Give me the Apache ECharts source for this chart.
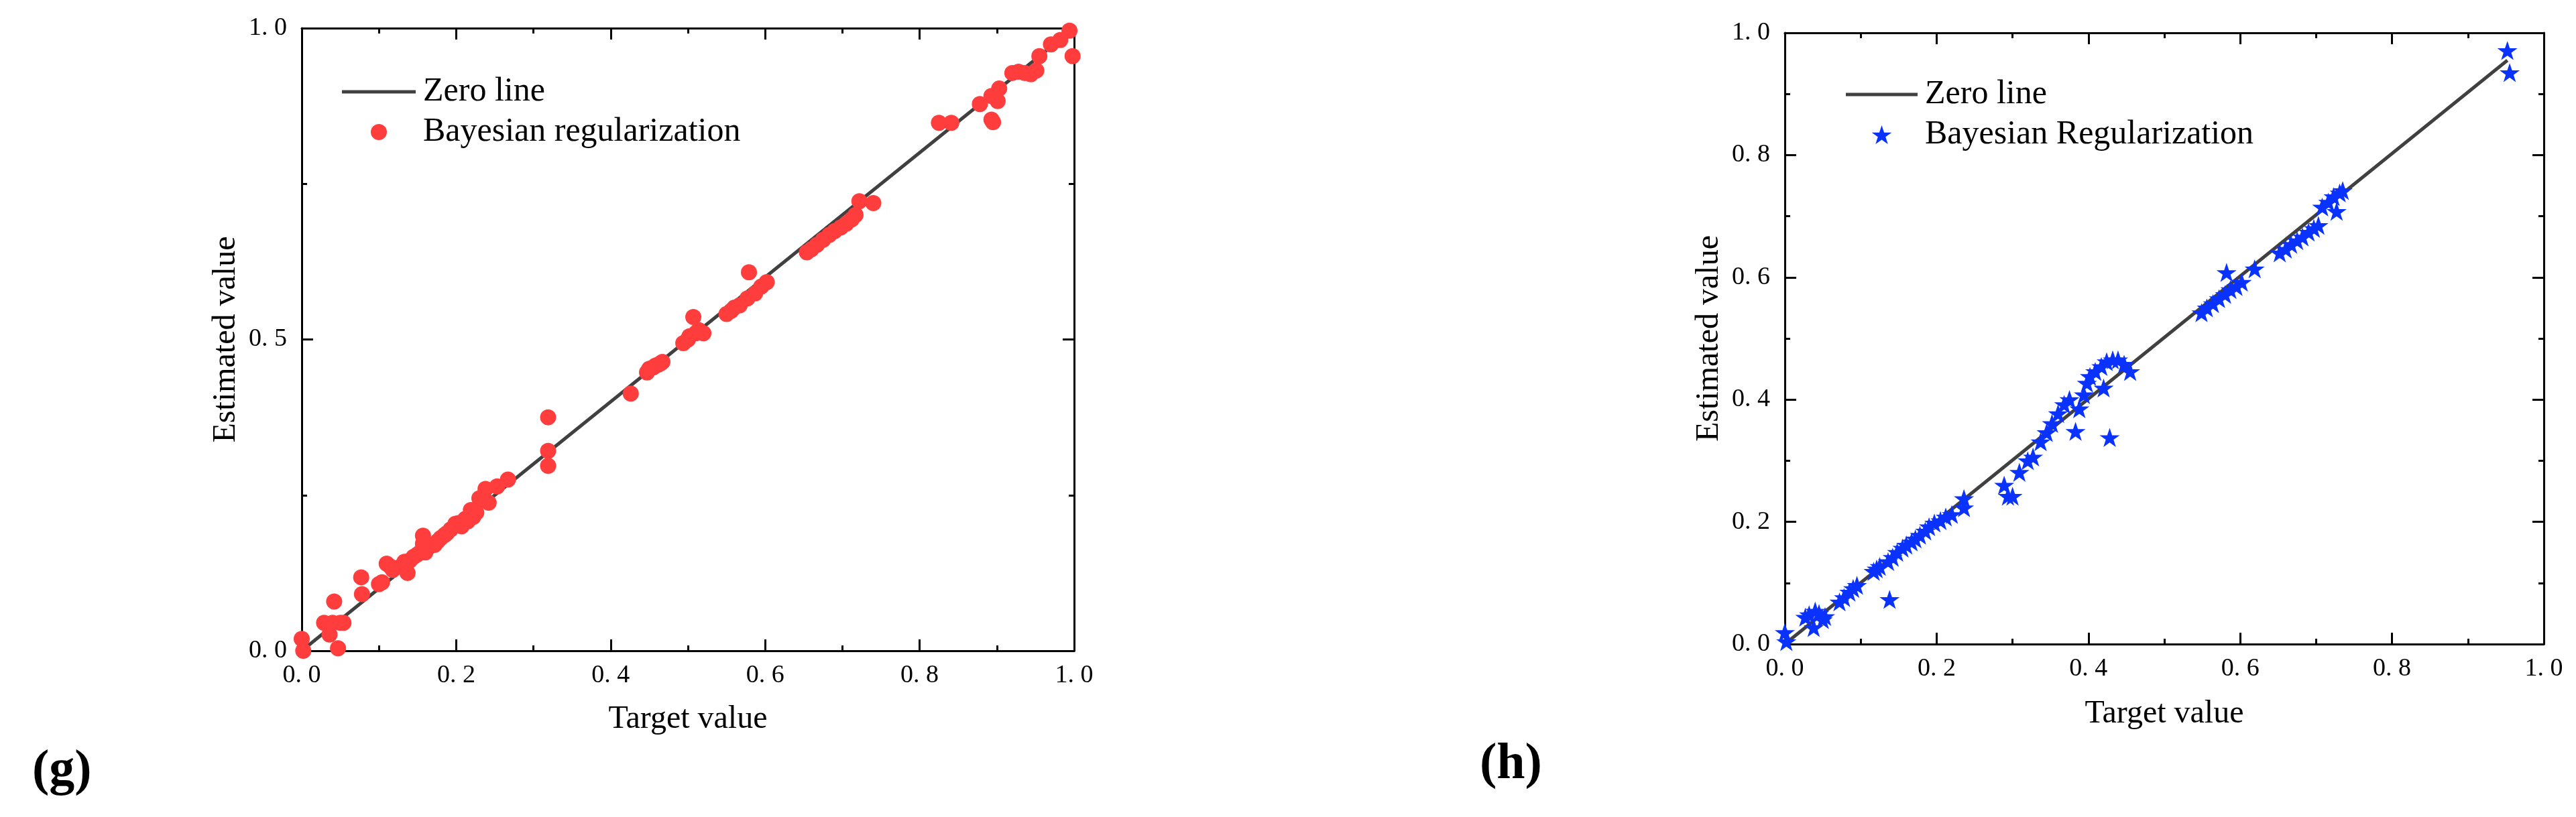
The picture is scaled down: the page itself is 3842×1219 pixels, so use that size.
<!DOCTYPE html>
<html>
<head>
<meta charset="utf-8">
<script src="https://cdn.jsdelivr.net/npm/echarts@6/dist/echarts.min.js"></script>
<style>
html,body{margin:0;padding:0;background:#fff;}
#chart{width:3842px;height:1219px;}
</style>
</head>
<body>
<div id="chart"></div>
<script>
// ---- Panel (g) data ----
const gTarget = [0.000,0.002,0.029,0.036,0.040,0.042,0.047,0.050,0.054,0.077,0.078,0.100,0.104,0.110,0.115,0.118,0.128,0.133,0.137,0.140,0.145,0.150,0.155,0.157,0.157,0.160,0.164,0.168,0.172,0.176,0.180,0.185,0.188,0.193,0.199,0.203,0.207,0.212,0.215,0.219,0.222,0.226,0.230,0.238,0.242,0.253,0.267,0.319,0.319,0.319,0.426,0.447,0.450,0.455,0.458,0.462,0.465,0.467,0.494,0.500,0.502,0.507,0.510,0.514,0.520,0.550,0.556,0.560,0.567,0.577,0.579,0.587,0.595,0.602,0.654,0.660,0.667,0.675,0.683,0.690,0.698,0.705,0.712,0.717,0.722,0.740,0.825,0.841,0.878,0.893,0.893,0.895,0.901,0.903,0.920,0.928,0.936,0.944,0.951,0.955,0.970,0.982,0.994,0.998];
const gEstimated = [0.019,0.000,0.045,0.026,0.045,0.079,0.004,0.045,0.045,0.118,0.091,0.107,0.110,0.140,0.135,0.130,0.135,0.143,0.125,0.145,0.151,0.155,0.160,0.185,0.172,0.158,0.166,0.170,0.170,0.176,0.181,0.186,0.189,0.195,0.204,0.205,0.200,0.212,0.208,0.226,0.215,0.222,0.245,0.260,0.238,0.264,0.275,0.375,0.321,0.297,0.413,0.447,0.453,0.455,0.458,0.460,0.462,0.464,0.494,0.500,0.505,0.536,0.510,0.515,0.510,0.541,0.546,0.551,0.555,0.566,0.608,0.574,0.585,0.592,0.640,0.645,0.652,0.660,0.668,0.674,0.680,0.686,0.693,0.700,0.722,0.719,0.848,0.848,0.878,0.891,0.853,0.849,0.883,0.903,0.928,0.930,0.928,0.926,0.932,0.955,0.974,0.981,0.996,0.955];
const gZeroLine = [[0, 0], [1, 1]];
const gXTicks = ['0. 0','0. 2','0. 4','0. 6','0. 8','1. 0'];
const gYTicks = ['0. 0','0. 5','1. 0'];

// ---- Panel (h) data ----
const hTarget = [0.000,0.002,0.027,0.032,0.038,0.040,0.045,0.050,0.053,0.072,0.078,0.085,0.090,0.095,0.117,0.121,0.125,0.138,0.136,0.142,0.148,0.155,0.160,0.167,0.172,0.178,0.185,0.190,0.197,0.205,0.212,0.220,0.236,0.236,0.289,0.294,0.300,0.309,0.320,0.327,0.337,0.345,0.352,0.360,0.368,0.375,0.383,0.388,0.394,0.398,0.402,0.409,0.417,0.424,0.432,0.439,0.447,0.455,0.420,0.428,0.549,0.556,0.564,0.572,0.580,0.582,0.587,0.595,0.602,0.619,0.652,0.660,0.667,0.675,0.682,0.690,0.697,0.703,0.708,0.716,0.723,0.731,0.735,0.727,0.952,0.955];
const hEstimated = [0.019,0.004,0.044,0.048,0.027,0.054,0.050,0.040,0.045,0.069,0.076,0.085,0.091,0.096,0.119,0.123,0.127,0.073,0.135,0.142,0.150,0.157,0.162,0.167,0.172,0.178,0.185,0.192,0.198,0.202,0.208,0.212,0.223,0.238,0.260,0.242,0.242,0.281,0.300,0.306,0.331,0.346,0.361,0.377,0.392,0.400,0.348,0.385,0.408,0.427,0.438,0.446,0.454,0.462,0.465,0.465,0.458,0.446,0.419,0.338,0.542,0.550,0.557,0.565,0.572,0.608,0.580,0.585,0.592,0.614,0.640,0.646,0.654,0.660,0.666,0.674,0.680,0.685,0.715,0.723,0.732,0.738,0.742,0.708,0.971,0.935];
const hZeroLine = [[0, 0], [0.952, 0.955]];
const hXTicks = ['0. 0','0. 2','0. 4','0. 6','0. 8','1. 0'];
const hYTicks = ['0. 0','0. 2','0. 4','0. 6','0. 8','1. 0'];

const FONT = '"Liberation Serif", "Times New Roman", serif';
const STAR = 'path://M50,0 L61.8,35.1 L98.8,35.1 L68.9,57 L80.2,92.1 L50,70.5 L19.8,92.1 L31.1,57 L1.2,35.1 L38.2,35.1 Z';
const LINE_ICON = 'path://M0,0 L110,0 L110,5 L0,5 Z';

function pairs(xs, ys) { return xs.map((x, i) => [x, ys[i]]); }

function mkAxis(o) {
  const base = {
    type: 'value', min: 0, max: 1,
    axisLine: { show: true, onZero: false, lineStyle: { color: '#000', width: 3 } },
    axisTick: { show: true, inside: true, length: 17, lineStyle: { color: '#000', width: 3 } },
    minorTick: { show: true, splitNumber: 2, length: 8, lineStyle: { color: '#000', width: 3 } },
    splitLine: { show: false },
    axisLabel: { show: false }
  };
  return Object.assign(base, o);
}
function lbl(ticks, step, margin) {
  return { show: true, color: '#000', fontSize: 38, fontFamily: FONT, margin: margin,
    formatter: v => ticks[Math.round(v / step)] };
}
const nameStyle = { color: '#000', fontSize: 48, fontFamily: FONT };
const legendText = { color: '#000', fontSize: 50, fontFamily: FONT, lineHeight: 52, padding: [0, 0, 0, 6] };

const option = {
  animation: false,
  backgroundColor: '#fff',
  textStyle: { fontFamily: FONT },
  grid: [
    { left: 450, top: 42, width: 1152, height: 929 },
    { left: 2662, top: 49, width: 1132, height: 912 }
  ],
  xAxis: [
    mkAxis({ gridIndex: 0, position: 'bottom', interval: 0.2, axisLabel: lbl(gXTicks, 0.2, 18),
      name: 'Target value', nameLocation: 'middle', nameGap: 78, nameTextStyle: nameStyle }),
    mkAxis({ gridIndex: 0, position: 'top', interval: 0.2 }),
    mkAxis({ gridIndex: 1, position: 'bottom', interval: 0.2, axisLabel: lbl(hXTicks, 0.2, 18),
      name: 'Target value', nameLocation: 'middle', nameGap: 80, nameTextStyle: nameStyle }),
    mkAxis({ gridIndex: 1, position: 'top', interval: 0.2 })
  ],
  yAxis: [
    mkAxis({ gridIndex: 0, position: 'left', interval: 0.5, axisLabel: lbl(gYTicks, 0.5, 22),
      name: 'Estimated value', nameLocation: 'middle', nameGap: 89, nameTextStyle: nameStyle }),
    mkAxis({ gridIndex: 0, position: 'right', interval: 0.5 }),
    mkAxis({ gridIndex: 1, position: 'left', interval: 0.2, axisLabel: lbl(hYTicks, 0.2, 22),
      name: 'Estimated value', nameLocation: 'middle', nameGap: 89, nameTextStyle: nameStyle }),
    mkAxis({ gridIndex: 1, position: 'right', interval: 0.2 })
  ],
  legend: [
    { orient: 'vertical', left: 505, top: 106, itemWidth: 110, itemHeight: 24, itemGap: 8,
      symbolKeepAspect: true, textStyle: legendText,
      data: [{ name: 'Zero line', icon: LINE_ICON }, { name: 'Bayesian regularization' }] },
    { orient: 'vertical', left: 2748, top: 110, itemWidth: 107, itemHeight: 28, itemGap: 8,
      symbolKeepAspect: true, textStyle: legendText,
      data: [{ name: 'Zero line ', icon: LINE_ICON }, { name: 'Bayesian Regularization' }] }
  ],
  series: [
    { name: 'Zero line', type: 'line', xAxisIndex: 0, yAxisIndex: 0, data: gZeroLine,
      symbol: 'none', lineStyle: { color: '#404040', width: 5 }, itemStyle: { color: '#404040' }, z: 1 },
    { name: 'Bayesian regularization', type: 'scatter', xAxisIndex: 0, yAxisIndex: 0,
      data: pairs(gTarget, gEstimated), symbol: 'circle', symbolSize: 24,
      itemStyle: { color: '#FF3D3D', opacity: 1 }, z: 2 },
    { name: 'Zero line ', type: 'line', xAxisIndex: 2, yAxisIndex: 2, data: hZeroLine,
      symbol: 'none', lineStyle: { color: '#404040', width: 5 }, itemStyle: { color: '#404040' }, z: 1 },
    { name: 'Bayesian Regularization', type: 'scatter', xAxisIndex: 2, yAxisIndex: 2,
      data: pairs(hTarget, hEstimated), symbol: STAR, symbolSize: 30, symbolKeepAspect: true,
      itemStyle: { color: '#0A32FF', opacity: 1 }, z: 2 }
  ],
  graphic: [
    { type: 'text', x: 48, y: 1151, style: { text: '(g)', fontSize: 76, fontWeight: 'bold', fontFamily: FONT, fill: '#000', verticalAlign: 'middle' } },
    { type: 'text', x: 2207, y: 1141, style: { text: '(h)', fontSize: 76, fontWeight: 'bold', fontFamily: FONT, fill: '#000', verticalAlign: 'middle' } }
  ]
};

const chart = echarts.init(document.getElementById('chart'), null, { renderer: 'canvas' });
chart.setOption(option);
</script>
</body>
</html>
